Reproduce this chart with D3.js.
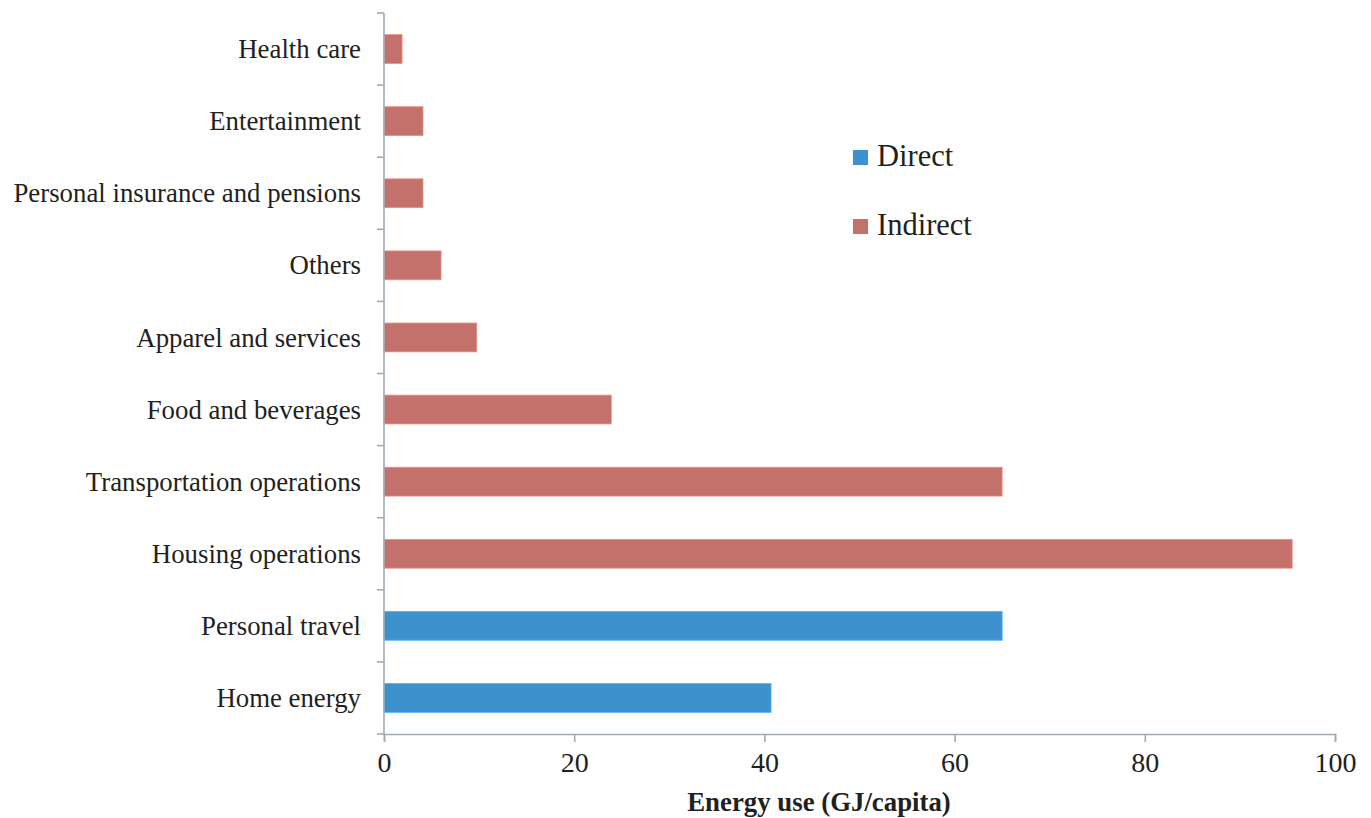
<!DOCTYPE html>
<html>
<head>
<meta charset="utf-8">
<script src="https://cdn.jsdelivr.net/npm/d3@7"></script>
<style>
  html, body { margin: 0; padding: 0; background: #fff; }
  svg { display: block; }
  text { font-family: "Liberation Serif", "Times New Roman", serif; fill: #231f20; }
</style>
</head>
<body>
<svg id="chart" width="1371" height="818"></svg>
<script>
// Household energy use by category (GJ per capita), listed top to bottom
const categories = [
  "Health care",
  "Entertainment",
  "Personal insurance and pensions",
  "Others",
  "Apparel and services",
  "Food and beverages",
  "Transportation operations",
  "Housing operations",
  "Personal travel",
  "Home energy"
];
const values = [1.9, 4.1, 4.1, 6.0, 9.75, 23.9, 65.0, 95.5, 65.0, 40.7];
const types = ["Indirect", "Indirect", "Indirect", "Indirect", "Indirect",
               "Indirect", "Indirect", "Indirect", "Direct", "Direct"];
const seriesNames = ["Direct", "Indirect"];
const seriesColors = ["#3d92cd", "#c3716a"];
const xTicks = [0, 20, 40, 60, 80, 100];
const xTitle = "Energy use (GJ/capita)";

const rows = categories.map((c, i) => ({ category: c, value: values[i], type: types[i] }));

const svg = d3.select("#chart");
const margin = { left: 384, right: 36, top: 13, bottom: 84 };
const W = 1371, H = 818;
const axisColor = "#a1abb5";

const x = d3.scaleLinear().domain([0, 100]).range([margin.left, W - margin.right]);
const y = d3.scaleBand().domain(categories).range([margin.top, H - margin.bottom]).paddingInner(0.6).paddingOuter(0.3);
const yEdges = d3.scaleBand().domain(categories).range([margin.top, H - margin.bottom]);
const color = d3.scaleOrdinal().domain(seriesNames).range(seriesColors);

// Bars
svg.append("g").selectAll("rect")
  .data(rows)
  .join("rect")
  .attr("x", x(0))
  .attr("y", d => y(d.category))
  .attr("width", d => x(d.value) - x(0))
  .attr("height", y.bandwidth())
  .attr("fill", d => color(d.type))
  .attr("stroke", d => d3.color(color(d.type)).brighter(0.6))
  .attr("stroke-width", 0.8);

// Category axis: line with ticks between categories
const yAxisG = svg.append("g");
yAxisG.append("line")
  .attr("x1", x(0)).attr("x2", x(0))
  .attr("y1", margin.top).attr("y2", H - margin.bottom)
  .attr("stroke", axisColor).attr("stroke-width", 1.6);
const boundaries = categories.map(c => yEdges(c)).concat([H - margin.bottom]);
yAxisG.selectAll("line.tick")
  .data(boundaries)
  .join("line")
  .attr("class", "tick")
  .attr("x1", x(0) - 7).attr("x2", x(0))
  .attr("y1", d => d).attr("y2", d => d)
  .attr("stroke", axisColor).attr("stroke-width", 1.6);
yAxisG.selectAll("text")
  .data(categories)
  .join("text")
  .attr("x", x(0) - 23)
  .attr("y", d => yEdges(d) + yEdges.bandwidth() / 2)
  .attr("dy", "0.34em")
  .attr("text-anchor", "end")
  .style("font-size", "26.8px")
  .text(d => d);

// Value axis
const xAxis = d3.axisBottom(x).tickValues(xTicks).tickSize(8).tickPadding(10).tickFormat(d3.format("d"));
const xAxisG = svg.append("g")
  .attr("transform", `translate(0,${H - margin.bottom})`)
  .call(xAxis);
xAxisG.select(".domain").attr("stroke", axisColor).attr("stroke-width", 1.6);
xAxisG.selectAll(".tick line").attr("stroke", axisColor).attr("stroke-width", 1.6);
xAxisG.selectAll(".tick text")
  .attr("fill", "#231f20")
  .style("font-family", "'Liberation Serif', 'Times New Roman', serif")
  .style("font-size", "28px");

svg.append("text")
  .attr("x", 819)
  .attr("y", 811)
  .attr("text-anchor", "middle")
  .style("font-size", "26.8px")
  .style("font-weight", "bold")
  .text(xTitle);

// Legend
const legend = svg.append("g").selectAll("g")
  .data(seriesNames)
  .join("g")
  .attr("transform", (d, i) => `translate(853,${150 + i * 69})`);
legend.append("rect")
  .attr("width", 15).attr("height", 15)
  .attr("fill", d => color(d));
legend.append("text")
  .attr("x", 24)
  .attr("y", 16)
  .style("font-size", "30.5px")
  .text(d => d);
</script>
</body>
</html>
